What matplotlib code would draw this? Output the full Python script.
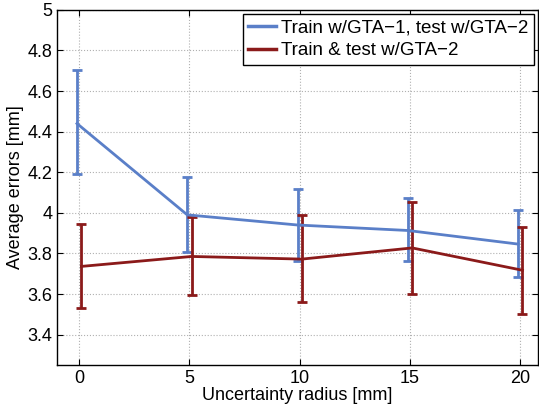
import numpy as np
import matplotlib.pyplot as plt
from matplotlib.lines import Line2D

plt.rcParams['font.family'] = ['Liberation Sans', 'DejaVu Sans']

radius = [0, 5, 10, 15, 20]

# train w/GTA-1, test w/GTA-2
gta1_mean = [4.44, 3.99, 3.94, 3.913, 3.846]
gta1_low = [4.19, 3.807, 3.764, 3.761, 3.684]
gta1_high = [4.705, 4.178, 4.119, 4.073, 4.012]

# train & test w/GTA-2
gta2_mean = [3.736, 3.785, 3.772, 3.827, 3.717]
gta2_low = [3.531, 3.593, 3.559, 3.602, 3.502]
gta2_high = [3.945, 3.979, 3.987, 4.053, 3.93]

labels = ['Train w/GTA\u22121, test w/GTA\u22122', 'Train & test w/GTA\u22122']
blue = '#5a7fc8'
red = '#8b1a1a'

fig = plt.figure(figsize=(5.39, 4.12), dpi=100)
ax = fig.add_axes([0.106, 0.114, 0.892, 0.862])

x = np.array(radius, dtype=float)
m1 = np.array(gta1_mean)
m2 = np.array(gta2_mean)
err1 = [m1 - np.array(gta1_low), np.array(gta1_high) - m1]
err2 = [m2 - np.array(gta2_low), np.array(gta2_high) - m2]

ax.errorbar(x - 0.1, m1, yerr=err1, color=blue, lw=2, elinewidth=2,
            capsize=3.5, capthick=2)
ax.errorbar(x + 0.1, m2, yerr=err2, color=red, lw=2, elinewidth=2,
            capsize=3.5, capthick=2)

ax.set_xlim(-1, 20.8)
ax.set_ylim(3.25, 5)
ax.set_xticks(radius)
ax.set_yticks(np.arange(3.4, 5.01, 0.2))
ax.set_yticklabels(['3.4', '3.6', '3.8', '4', '4.2', '4.4', '4.6', '4.8', '5'])
ax.grid(True, linestyle=':', color='#b0b0b0', lw=0.8)
ax.tick_params(direction='in', top=True, right=True, labelsize=13, length=4)
for s in ax.spines.values():
    s.set_linewidth(1)

ax.set_xlabel('Uncertainty radius [mm]', fontsize=13, labelpad=0)
ax.set_ylabel('Average errors [mm]', fontsize=13, labelpad=2)

handles = [Line2D([], [], color=blue, lw=2.5), Line2D([], [], color=red, lw=2.5)]
leg = ax.legend(handles, labels, loc='upper right', fontsize=13.5, fancybox=False,
                framealpha=1, edgecolor='black', handlelength=1.5,
                borderaxespad=0.2, handletextpad=0.25, labelspacing=0.3,
                borderpad=0.3)
leg.get_frame().set_linewidth(1)

fig.savefig('out.png', dpi=100)
